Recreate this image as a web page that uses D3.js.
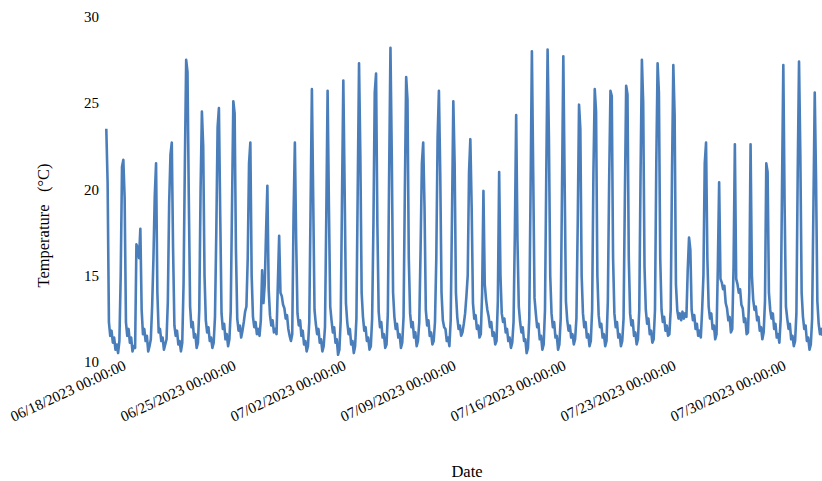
<!DOCTYPE html>
<html>
<head>
<meta charset="utf-8">
<script src="https://cdn.jsdelivr.net/npm/d3@7"></script>
<style>
  html, body { margin: 0; padding: 0; background: #fff; }
  svg { display: block; }
</style>
</head>
<body>
<div id="chart"></div>
<script>
// readings every 2 hours, first one at 06/16/2023 23:00 (UTC)
const startTime = '2023-06-16T23:00:00Z';
const stepHours = 2;
// one line per day, 19:00 of the day before through 17:00
const temps = [
    23.5, 20.4, 12.3, 11.5, 11.8, 11.1, 11.4, 10.7, 11.0, 10.5,
    11.2, 15.0, 21.3, 21.7, 19.5, 12.3, 11.5, 11.9, 11.1, 11.4, 10.6, 10.9, // 06/18
    10.8, 16.8, 16.6, 16.0, 17.7, 13.0, 11.6, 11.9, 11.2, 11.5, 10.6, 10.9,
    11.3, 13.2, 16.0, 19.6, 21.5, 14.0, 11.7, 11.9, 11.2, 11.4, 10.7, 11.0,
    11.3, 13.5, 19.2, 22.0, 22.7, 16.5, 12.1, 11.5, 11.8, 11.0, 11.2, 10.6,
    11.1, 14.5, 21.5, 27.5, 26.8, 19.5, 13.2, 12.0, 12.3, 11.4, 11.6, 10.8,
    11.1, 13.0, 20.0, 24.5, 22.5, 15.0, 12.4, 11.7, 12.0, 11.2, 11.4, 10.8,
    11.1, 12.6, 17.5, 23.6, 24.7, 18.5, 12.8, 11.9, 12.2, 11.3, 11.6, 10.9,
    11.3, 12.9, 19.0, 25.1, 24.4, 16.5, 12.5, 11.8, 12.1, 11.4, 11.8, 12.3, // 06/25
    12.9, 13.2, 16.0, 21.5, 22.7, 15.0, 12.6, 12.0, 12.3, 11.6, 11.9, 11.5,
    12.4, 15.3, 13.4, 14.5, 17.5, 20.2, 14.2, 12.7, 12.1, 12.4, 11.7, 11.9,
    11.6, 14.5, 17.3, 14.0, 13.8, 13.3, 13.1, 12.5, 12.7, 11.9, 11.5, 11.2,
    11.6, 18.5, 22.7, 17.0, 12.8, 12.1, 12.4, 11.5, 11.8, 11.0, 11.2, 10.6,
    10.9, 12.3, 19.0, 25.8, 19.5, 13.0, 12.2, 11.6, 11.9, 11.1, 11.3, 10.6,
    10.9, 12.0, 18.5, 25.7, 19.0, 13.2, 12.4, 11.7, 12.0, 11.1, 11.3, 10.4,
    10.7, 12.4, 19.5, 26.3, 20.0, 13.4, 12.3, 11.6, 11.9, 11.0, 11.2, 10.5, // 07/02
    10.9, 12.5, 20.0, 27.3, 22.0, 14.0, 12.6, 11.8, 12.0, 11.2, 11.4, 10.7,
    10.9, 12.5, 18.0, 25.6, 26.7, 18.0, 12.9, 12.0, 12.3, 11.4, 11.6, 10.8,
    11.0, 12.8, 21.0, 28.2, 22.0, 14.0, 12.6, 11.9, 12.2, 11.4, 11.6, 10.8,
    11.1, 12.6, 20.0, 26.5, 25.2, 16.0, 12.8, 12.0, 12.3, 11.4, 11.7, 10.9,
    11.2, 12.3, 16.5, 21.5, 22.7, 19.0, 13.0, 12.1, 12.4, 11.5, 11.7, 11.0,
    11.2, 12.3, 16.0, 23.0, 25.7, 21.0, 14.0, 12.4, 12.0, 11.9, 11.2, 11.4,
    10.9, 12.4, 18.5, 25.1, 21.5, 14.0, 12.6, 11.9, 12.1, 11.5, 11.7, 12.2, // 07/09
    12.8, 13.8, 15.0, 21.0, 22.9, 19.0, 13.4, 12.5, 12.7, 11.9, 12.1, 11.4,
    11.6, 14.0, 19.9, 14.5, 13.6, 13.0, 12.6, 12.0, 12.3, 11.5, 11.7, 11.0,
    11.2, 13.5, 21.0, 15.0, 12.8, 12.3, 12.5, 11.7, 11.9, 11.2, 11.4, 10.8,
    11.1, 12.3, 17.5, 24.3, 17.0, 13.2, 12.3, 11.7, 12.0, 11.2, 11.3, 10.5,
    10.8, 12.5, 20.0, 28.0, 21.0, 13.7, 12.8, 12.0, 12.2, 11.3, 11.5, 10.7,
    11.0, 13.0, 21.0, 28.1, 23.0, 15.0, 12.8, 12.0, 12.3, 11.4, 11.5, 10.7,
    11.0, 12.5, 20.0, 27.7, 20.5, 13.5, 12.4, 11.8, 12.1, 11.4, 11.6, 11.0, // 07/16
    11.3, 12.5, 18.0, 24.9, 23.5, 15.0, 12.8, 12.0, 12.3, 11.4, 11.6, 10.9,
    11.2, 13.0, 21.0, 25.8, 24.5, 15.0, 12.7, 12.0, 12.2, 11.4, 11.6, 10.9,
    11.2, 13.5, 20.5, 25.7, 25.4, 16.0, 12.8, 12.0, 12.3, 11.4, 11.6, 10.9,
    11.2, 12.5, 19.5, 26.0, 25.5, 16.0, 12.8, 12.1, 12.4, 11.5, 11.7, 11.0,
    11.3, 13.0, 21.0, 27.5, 25.0, 15.5, 13.0, 12.2, 12.5, 11.6, 11.8, 11.1,
    11.3, 13.0, 21.5, 27.3, 25.6, 16.0, 13.0, 12.3, 12.6, 11.8, 12.1, 11.5,
    11.6, 13.0, 21.0, 27.2, 24.3, 14.5, 13.0, 12.5, 12.8, 12.4, 12.9, 12.5, // 07/23
    12.8, 12.6, 15.3, 17.2, 16.5, 13.0, 12.4, 12.7, 11.9, 12.2, 11.5, 11.8,
    11.4, 13.0, 15.0, 21.5, 22.7, 16.0, 13.2, 12.5, 12.8, 11.9, 12.1, 11.3,
    11.6, 15.5, 20.4, 14.8, 14.6, 14.2, 14.4, 13.4, 13.1, 12.4, 12.6, 11.7,
    11.9, 15.5, 22.6, 14.8, 14.5, 14.0, 14.2, 13.3, 13.1, 12.3, 12.5, 11.6,
    11.7, 14.0, 22.6, 15.0, 13.6, 13.0, 13.2, 12.4, 12.6, 11.8, 12.0, 11.3,
    11.7, 13.5, 21.5, 21.0, 14.0, 13.0, 12.5, 12.8, 11.9, 12.2, 11.4, 11.6,
    11.1, 12.5, 20.0, 27.2, 19.0, 13.2, 12.5, 11.9, 12.2, 11.3, 11.5, 10.9, // 07/30
    11.2, 12.8, 21.0, 27.4, 22.0, 14.0, 12.6, 11.9, 12.1, 11.2, 11.4, 10.7,
    11.0, 12.5, 19.0, 25.6, 20.5, 13.5, 12.2, 11.6, 11.9, 11.5
];
const tickDates = ['2023-06-18', '2023-06-25', '2023-07-02', '2023-07-09',
    '2023-07-16', '2023-07-23', '2023-07-30'];
const yTicks = [10, 15, 20, 25, 30];

const fullWidth = 822;
const fullHeight = 481;
const plotLeft = 106.3;
const plotRight = 822.6;
const plotTop = 16.7;
const plotBottom = 361.7;
const font = '"Liberation Serif", "Times New Roman", serif';

const t0 = new Date(startTime).getTime();
const points = temps.map((v, i) => ({
    time: new Date(t0 + i * stepHours * 3600 * 1000),
    temp: v
}));

const svg = d3.select('#chart')
    .append('svg')
    .attr('width', fullWidth)
    .attr('height', fullHeight)
    .style('font-family', font);

const x = d3.scaleUtc()
    .domain([points[0].time, points[points.length - 1].time])
    .range([plotLeft, plotRight]);

const y = d3.scaleLinear()
    .domain([10, 30])
    .range([plotBottom, plotTop]);

// y axis, labels only
const yAxis = svg.append('g')
    .attr('transform', 'translate(99, 0)')
    .call(d3.axisLeft(y).tickValues(yTicks).tickSize(0).tickPadding(0));
yAxis.select('.domain').remove();
yAxis.selectAll('text')
    .style('font-family', font)
    .style('font-size', '15px')
    .attr('fill', '#000');

// x axis, rotated labels only
const xAxis = svg.append('g')
    .call(d3.axisBottom(x)
        .tickValues(tickDates.map(d => new Date(d + 'T00:00:00Z')))
        .tickFormat(d3.utcFormat('%m/%d/%Y %H:%M:%S'))
        .tickSize(0));
xAxis.select('.domain').remove();
xAxis.selectAll('text')
    .attr('x', 0)
    .attr('y', 0)
    .attr('dy', 0)
    .attr('transform', 'translate(4, 369) rotate(-25)')
    .attr('text-anchor', 'end')
    .attr('fill', '#000')
    .style('font-family', font)
    .style('font-size', '15px');

// line
const line = d3.line()
    .x(d => x(d.time))
    .y(d => y(d.temp));

svg.append('path')
    .datum(points)
    .attr('fill', 'none')
    .attr('stroke', '#4A7EBB')
    .attr('stroke-width', 2.6)
    .attr('stroke-linejoin', 'round')
    .attr('d', line);

// axis titles
svg.append('text')
    .attr('transform', 'translate(49, 225.5) rotate(-90)')
    .attr('text-anchor', 'middle')
    .style('font-size', '16.5px')
    .style('white-space', 'pre')
    .text('Temperature   (°C)');

svg.append('text')
    .attr('x', 467)
    .attr('y', 477)
    .attr('text-anchor', 'middle')
    .style('font-size', '16.5px')
    .text('Date');
</script>
</body>
</html>
